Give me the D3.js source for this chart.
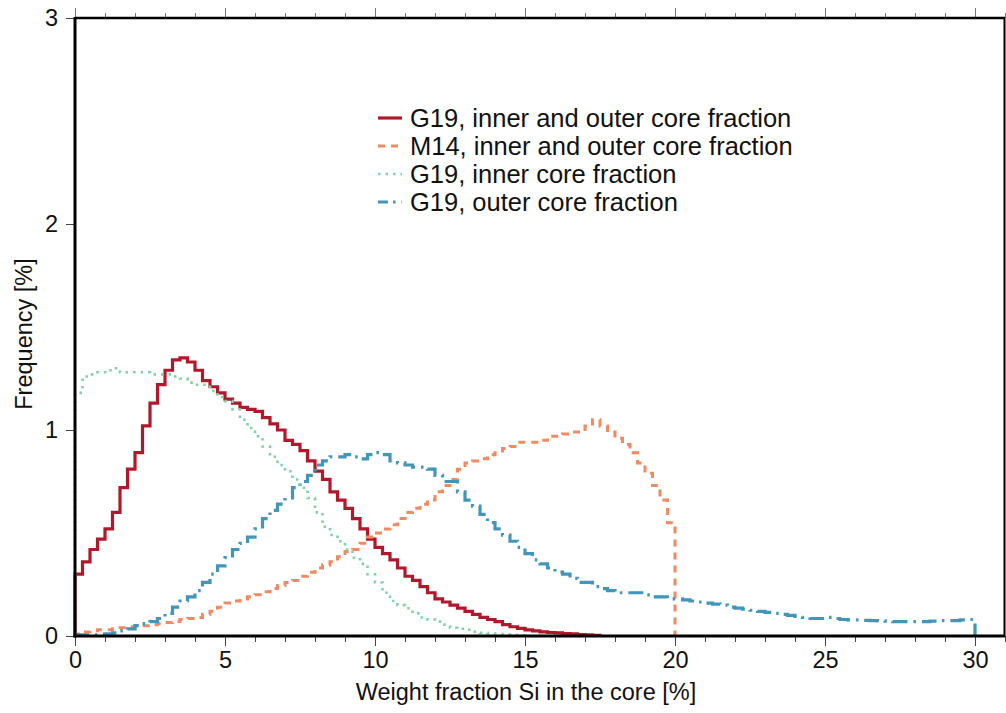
<!DOCTYPE html>
<html>
<head>
<meta charset="utf-8">
<script src="https://cdn.jsdelivr.net/npm/d3@7"></script>
<style>
  html, body { margin: 0; padding: 0; background: #fff; }
  svg { display: block; font-family: "Liberation Sans", Arial, Helvetica, sans-serif; }
</style>
</head>
<body>
<svg id="chart" width="1006" height="713"></svg>
<script>
// ---- data (histogram bins, width 0.25 wt%) ----
const binWidth = 0.25;
const xTicks = [0, 5, 10, 15, 20, 25, 30];
const yTicks = [0, 1, 2, 3];
const seriesNames = [
  "G19, inner and outer core fraction",
  "M14, inner and outer core fraction",
  "G19, inner core fraction",
  "G19, outer core fraction"
];
// G19 total, bins starting at 0
const g19Total = [
  0.30, 0.36, 0.42, 0.47, 0.52, 0.60, 0.72, 0.81, 0.89, 1.02, 1.13, 1.22,
  1.29, 1.34, 1.35, 1.33, 1.29, 1.24, 1.21, 1.18, 1.15, 1.13, 1.11, 1.10,
  1.09, 1.06, 1.03, 1.00, 0.95, 0.93, 0.90, 0.85, 0.80, 0.76, 0.70, 0.66,
  0.62, 0.57, 0.52, 0.47, 0.43, 0.40, 0.37, 0.33, 0.29, 0.27, 0.24, 0.21,
  0.18, 0.165, 0.15, 0.135, 0.12, 0.105, 0.09, 0.08, 0.07, 0.055, 0.045, 0.037,
  0.03, 0.025, 0.02, 0.017, 0.015, 0.012, 0.01, 0.007, 0.005, 0.003
];
// M14 total, bins starting at 0
const m14Total = [
  0.01, 0.02, 0.025, 0.03, 0.03, 0.035, 0.04, 0.045, 0.05, 0.05, 0.055, 0.06,
  0.065, 0.07, 0.08, 0.085, 0.09, 0.105, 0.12, 0.14, 0.16, 0.17, 0.18, 0.19,
  0.20, 0.215, 0.23, 0.245, 0.26, 0.27, 0.29, 0.31, 0.33, 0.345, 0.36, 0.385,
  0.41, 0.42, 0.45, 0.48, 0.50, 0.52, 0.54, 0.57, 0.60, 0.62, 0.64, 0.66,
  0.70, 0.73, 0.76, 0.81, 0.84, 0.85, 0.86, 0.88, 0.89, 0.91, 0.92, 0.94,
  0.94, 0.94, 0.95, 0.97, 0.97, 0.98, 0.99, 0.99, 1.02, 1.05, 1.02, 0.99,
  0.96, 0.93, 0.89, 0.84, 0.79, 0.73, 0.66, 0.55
];
// G19 inner core, bins starting at 0
const g19Inner = [
  1.18, 1.26, 1.27, 1.28, 1.29, 1.30, 1.28, 1.28, 1.28, 1.28, 1.27, 1.27,
  1.27, 1.26, 1.25, 1.23, 1.22, 1.22, 1.19, 1.16, 1.14, 1.10, 1.05, 1.01,
  0.97, 0.92, 0.87, 0.83, 0.80, 0.76, 0.72, 0.67, 0.60, 0.53, 0.49, 0.46,
  0.42, 0.38, 0.35, 0.30, 0.26, 0.21, 0.17, 0.15, 0.135, 0.11, 0.09, 0.08,
  0.07, 0.055, 0.04, 0.035, 0.03, 0.02, 0.015, 0.012, 0.01, 0.007, 0.005, 0.003
];
// G19 outer core, bins starting at 0
const g19Outer = [
  0.005, 0.005, 0.005, 0.008, 0.01, 0.015, 0.025, 0.035, 0.05, 0.06, 0.07, 0.085,
  0.11, 0.14, 0.17, 0.19, 0.22, 0.26, 0.30, 0.34, 0.38, 0.42, 0.45, 0.48,
  0.52, 0.57, 0.61, 0.64, 0.67, 0.72, 0.75, 0.78, 0.83, 0.85, 0.87, 0.87,
  0.88, 0.87, 0.86, 0.88, 0.89, 0.88, 0.85, 0.84, 0.83, 0.82, 0.82, 0.81,
  0.78, 0.75, 0.75, 0.70, 0.66, 0.63, 0.59, 0.55, 0.52, 0.49, 0.46, 0.43,
  0.40, 0.37, 0.35, 0.33, 0.31, 0.30, 0.28, 0.26, 0.26, 0.24, 0.23, 0.22,
  0.21, 0.21, 0.21, 0.21, 0.20, 0.19, 0.19, 0.18, 0.18, 0.175, 0.17, 0.165,
  0.16, 0.155, 0.15, 0.14, 0.135, 0.13, 0.125, 0.12, 0.115, 0.11, 0.105, 0.10,
  0.095, 0.09, 0.085, 0.085, 0.09, 0.085, 0.08, 0.078, 0.078, 0.076, 0.075, 0.073,
  0.072, 0.07, 0.07, 0.07, 0.07, 0.07, 0.072, 0.075, 0.075, 0.075, 0.078, 0.08
];

const colors = ["#b2182b", "#ef8a62", "#7fd1a6", "#4196b9"];
const dashes = [null, "7,6", "2.5,5", "15,6,2.5,6"];
const widths = [3.2, 3, 2.6, 3.2];

// ---- layout ----
const svg = d3.select("#chart");
const x = d3.scaleLinear().domain([0, 31]).range([75, 1005]);
const y = d3.scaleLinear().domain([0, 3]).range([636, 18]);
const labelFont = 23.5;
const legendFont = 25.5;

function toSteps(vals) {
  const pts = [[0, 0]];
  vals.forEach((v, i) => pts.push([i * binWidth, v]));
  pts.push([vals.length * binWidth, 0]);
  return pts;
}

const line = d3.line()
  .x(d => x(d[0]))
  .y(d => y(d[1]))
  .curve(d3.curveStepAfter);

const allSeries = [g19Total, m14Total, g19Inner, g19Outer];
const drawOrder = [0, 1, 3, 2];
const plot = svg.append("g");
drawOrder.forEach(k => {
  plot.append("path")
    .datum(toSteps(allSeries[k]))
    .attr("d", line)
    .attr("fill", "none")
    .attr("stroke", colors[k])
    .attr("stroke-width", widths[k])
    .attr("stroke-dasharray", dashes[k])
    .attr("stroke-linejoin", "miter");
});

// ---- axes ----
const tickColor = "#444";
const xMinor = d3.range(0, 32, 1);
// bottom ticks
const gb = svg.append("g").attr("transform", "translate(0,636)");
gb.call(d3.axisBottom(x).tickValues(xMinor).tickSize(6).tickFormat(""))
  .call(g => g.select(".domain").remove())
  .call(g => g.selectAll("line").attr("stroke", tickColor));
gb.append("g")
  .call(d3.axisBottom(x).tickValues(xTicks).tickSize(10).tickPadding(5))
  .call(g => g.select(".domain").remove())
  .call(g => g.selectAll("line").attr("stroke", tickColor))
  .call(g => g.selectAll("text").attr("font-size", labelFont).attr("fill", "#111")
    .attr("font-family", "Liberation Sans, Arial, sans-serif"));
// top ticks
const gt = svg.append("g").attr("transform", "translate(0,18)");
gt.call(d3.axisTop(x).tickValues(xMinor).tickSize(5).tickFormat(""))
  .call(g => g.select(".domain").remove())
  .call(g => g.selectAll("line").attr("stroke", "#777"));
gt.append("g")
  .call(d3.axisTop(x).tickValues(xTicks).tickSize(10).tickFormat(""))
  .call(g => g.select(".domain").remove())
  .call(g => g.selectAll("line").attr("stroke", "#777"));
// left axis
svg.append("g").attr("transform", "translate(75,0)")
  .call(d3.axisLeft(y).tickValues(yTicks).tickSize(9).tickPadding(8).tickFormat(d3.format("d")))
  .call(g => g.select(".domain").remove())
  .call(g => g.selectAll("line").attr("stroke", tickColor))
  .call(g => g.selectAll("text").attr("font-size", labelFont).attr("fill", "#111")
    .attr("font-family", "Liberation Sans, Arial, sans-serif"));

// frame
const frame = svg.append("g").attr("stroke", "#000").attr("fill", "none");
frame.append("line").attr("x1", x(0) - 1.5).attr("x2", 1005).attr("y1", y(0)).attr("y2", y(0)).attr("stroke-width", 3);
frame.append("line").attr("x1", x(0)).attr("x2", x(0)).attr("y1", y(3) - 1).attr("y2", y(0) + 1.5).attr("stroke-width", 3);
frame.append("line").attr("x1", x(0)).attr("x2", 1005).attr("y1", y(3)).attr("y2", y(3)).attr("stroke-width", 2.5);
frame.append("line").attr("x1", 1004.5).attr("x2", 1004.5).attr("y1", y(3)).attr("y2", y(0)).attr("stroke-width", 2);

// axis titles
svg.append("text")
  .attr("x", 526).attr("y", 700)
  .attr("text-anchor", "middle").attr("font-size", labelFont).attr("fill", "#111")
  .text("Weight fraction Si in the core [%]");
svg.append("text")
  .attr("transform", "translate(32,334) rotate(-90)")
  .attr("text-anchor", "middle").attr("font-size", labelFont).attr("fill", "#111")
  .text("Frequency [%]");

// legend
const leg = svg.append("g");
seriesNames.forEach((name, i) => {
  const cy = 118 + i * 28;
  leg.append("line")
    .attr("x1", 378).attr("x2", 402).attr("y1", cy).attr("y2", cy)
    .attr("stroke", colors[i]).attr("stroke-width", widths[i])
    .attr("stroke-dasharray", i === 3 ? "10,5,2.5,6" : dashes[i]);
  leg.append("text")
    .attr("x", 410).attr("y", cy + 9)
    .attr("font-size", legendFont).attr("fill", "#111")
    .text(name);
});
</script>
</body>
</html>
